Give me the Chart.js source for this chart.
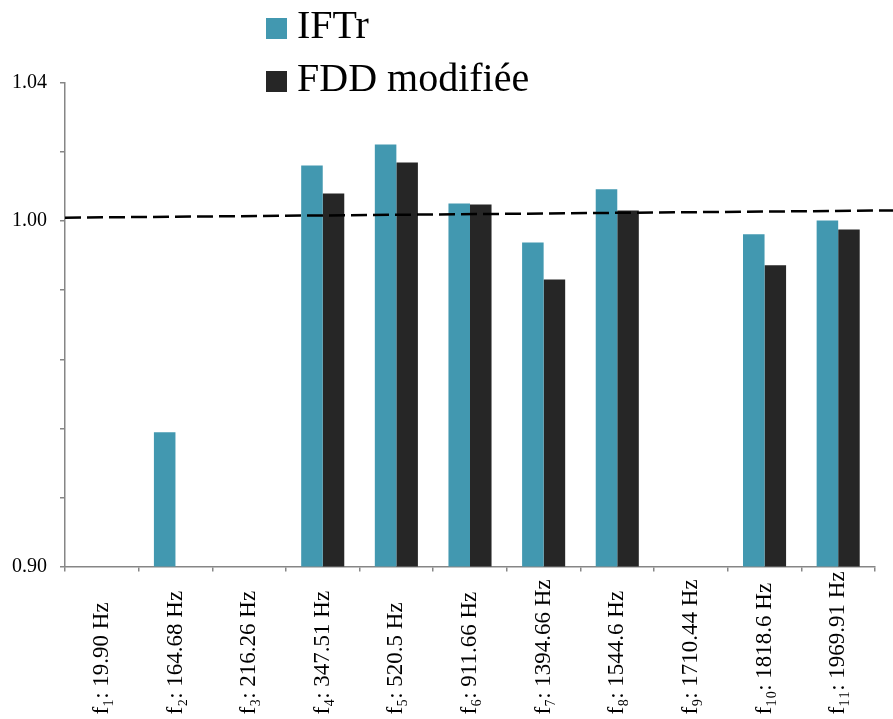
<!DOCTYPE html>
<html>
<head>
<meta charset="utf-8">
<script src="https://cdn.jsdelivr.net/npm/chart.js@4"></script>
<style>
  html, body { margin: 0; padding: 0; background: #fff; }
  #wrap { position: relative; width: 893px; height: 719px; }
  #legend {
    position: absolute; left: 266px; top: -2px;
    font-family: "Liberation Serif", "Times New Roman", serif;
    font-size: 40px; line-height: 53px; color: #000;
  }
  #legend .item { display: flex; align-items: center; height: 53px; }
  #legend .swatch { width: 21px; height: 21px; margin-right: 10px; transform: translateY(4px); }
</style>
</head>
<body>
<div id="wrap">
  <canvas id="chart" width="893" height="719"></canvas>
  <div id="legend"></div>
</div>
<script>
const categories = [
  'f\u2081: 19.90 Hz', 'f\u2082: 164.68 Hz', 'f\u2083: 216.26 Hz', 'f\u2084: 347.51 Hz',
  'f\u2085: 520.5 Hz', 'f\u2086: 911.66 Hz', 'f\u2087: 1394.66 Hz', 'f\u2088: 1544.6 Hz',
  'f\u2089: 1710.44 Hz', 'f\u2081\u2080: 1818.6 Hz', 'f\u2081\u2081: 1969.91 Hz'
];
const iftrValues = [null, 0.9389, null, 1.0161, 1.0222, 1.0051, 0.9938, 1.0092, null, 0.9962, 1.0002];
const fddValues  = [null, null, null, 1.0080, 1.0170, 1.0048, 0.9831, 1.0031, null, 0.9872, 0.9976];
const yTickLabels = [0.90, 1.00, 1.04];
// reference line: value at the left axis and at the right edge
const refLine = [1.0010, 1.0031];

const serif = '"Liberation Serif", "Times New Roman", serif';

const refLinePlugin = {
  id: 'refLine',
  afterDatasetsDraw(chart) {
    const { ctx, chartArea, scales: { y } } = chart;
    ctx.save();
    ctx.strokeStyle = '#000';
    ctx.lineWidth = 2.5;
    ctx.setLineDash([16, 6]);
    ctx.beginPath();
    ctx.moveTo(chartArea.left, y.getPixelForValue(refLine[0]));
    ctx.lineTo(chart.width, y.getPixelForValue(refLine[1]));
    ctx.stroke();
    ctx.restore();
  }
};

// category labels: rotated, reading upward, all starting from the same baseline at the bottom
const xLabelPlugin = {
  id: 'xLabels',
  afterDraw(chart) {
    const { ctx, scales: { x } } = chart;
    const startY = x.bottom - 4.5;
    ctx.save();
    ctx.fillStyle = '#000';
    ctx.font = '23px ' + serif;
    ctx.textAlign = 'left';
    ctx.textBaseline = 'middle';
    x.ticks.forEach((t, i) => {
      ctx.save();
      ctx.translate(x.getPixelForTick(i), startY);
      ctx.rotate(-Math.PI / 2);
      ctx.fillText(chart.data.labels[i], 0, 0);
      ctx.restore();
    });
    ctx.restore();
  }
};

const chart = new Chart(document.getElementById('chart'), {
  type: 'bar',
  data: {
    labels: categories,
    datasets: [
      { label: 'IFTr', data: iftrValues, backgroundColor: '#4298b0' },
      { label: 'FDD modifiée', data: fddValues, backgroundColor: '#262626' }
    ]
  },
  options: {
    responsive: false,
    animation: false,
    devicePixelRatio: 1,
    categoryPercentage: 0.585,
    barPercentage: 1,
    layout: { padding: { top: 83, right: 18, left: 0, bottom: 0 } },
    plugins: {
      legend: { display: false },
      tooltip: { enabled: false }
    },
    scales: {
      x: {
        afterFit(scale) { scale.height = 152.5; },
        border: { color: '#868686', width: 1.5 },
        grid: { drawOnChartArea: false, color: '#868686', tickLength: 5, lineWidth: 1.5 },
        ticks: { display: false, autoSkip: false }
      },
      y: {
        min: 0.90, max: 1.04,
        afterFit(scale) { scale.width = 65; },
        border: { color: '#868686', width: 1.5 },
        grid: { drawOnChartArea: false, color: '#868686', tickLength: 5, lineWidth: 1.5 },
        ticks: {
          stepSize: 0.02,
          color: '#000',
          font: { family: serif, size: 20 },
          padding: 13,
          callback(v) {
            const shown = yTickLabels.some(t => Math.abs(t - v) < 1e-6);
            return shown ? v.toFixed(2) : '';
          }
        }
      }
    }
  },
  plugins: [refLinePlugin, xLabelPlugin]
});

// legend stacked vertically above the plot
const legendEl = document.getElementById('legend');
chart.data.datasets.forEach(ds => {
  const item = document.createElement('div');
  item.className = 'item';
  const sw = document.createElement('span');
  sw.className = 'swatch';
  sw.style.background = ds.backgroundColor;
  const txt = document.createElement('span');
  txt.textContent = ds.label;
  item.appendChild(sw);
  item.appendChild(txt);
  legendEl.appendChild(item);
});
</script>
</body>
</html>
